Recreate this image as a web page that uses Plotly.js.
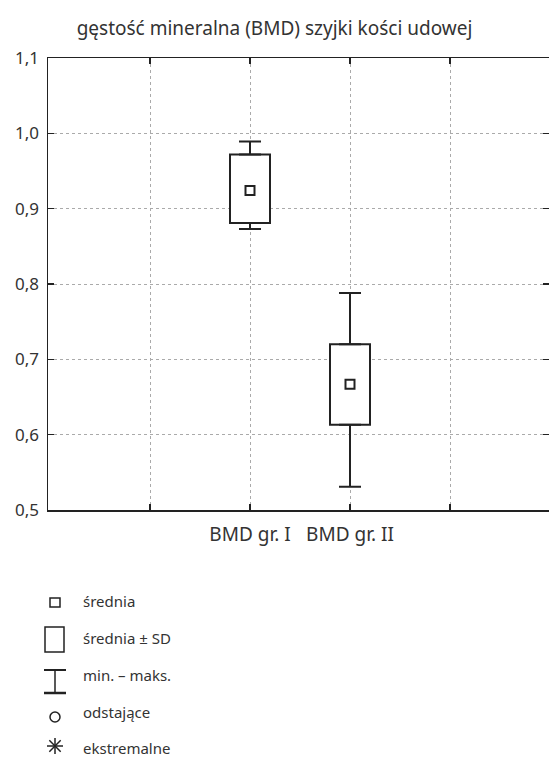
<!DOCTYPE html>
<html>
<head>
<meta charset="utf-8">
<script src="https://cdn.plot.ly/plotly-3.0.1.min.js"></script>
<style>html,body{margin:0;padding:0;background:#fff;}#chart{width:549px;height:758px;}</style>
</head>
<body>
<div id="chart"></div>
<script>
// Data
const categories = ['BMD gr. I', 'BMD gr. II'];
const catPos = [2, 3];
const means = [0.924, 0.667];
const sdLower = [0.881, 0.613];
const sdUpper = [0.972, 0.720];
const minVals = [0.873, 0.531];
const maxVals = [0.989, 0.788];
const tickVals = [1, 2, 3, 4];
const tickText = ['', 'BMD gr. I', 'BMD gr. II', ''];
const yTickVals = [0.5, 0.6, 0.7, 0.8, 0.9, 1.0, 1.1];
const legendLabels = ['średnia', 'średnia ± SD', 'min. – maks.', 'odstające', 'ekstremalne'];

const FONT = 'Noto Sans, sans-serif';
const INK = '#222';

const traces = [
  {
    type: 'bar', x: catPos, base: sdLower,
    y: sdUpper.map((u, i) => u - sdLower[i]),
    width: 0.4,
    marker: {color: '#fff', line: {color: INK, width: 2}},
    hoverinfo: 'skip', showlegend: false
  },
  { // upper whisker
    type: 'scatter', mode: 'markers', x: catPos, y: sdUpper,
    marker: {size: 1, color: 'rgba(0,0,0,0)'},
    error_y: {type: 'data', symmetric: false,
      array: maxVals.map((m, i) => m - sdUpper[i]), arrayminus: catPos.map(() => 0),
      color: INK, thickness: 2, width: 11},
    hoverinfo: 'skip', showlegend: false
  },
  { // lower whisker
    type: 'scatter', mode: 'markers', x: catPos, y: sdLower,
    marker: {size: 1, color: 'rgba(0,0,0,0)'},
    error_y: {type: 'data', symmetric: false,
      array: catPos.map(() => 0), arrayminus: sdLower.map((l, i) => l - minVals[i]),
      color: INK, thickness: 2, width: 11},
    hoverinfo: 'skip', showlegend: false
  },
  {
    type: 'scatter', mode: 'markers', x: catPos, y: means,
    marker: {symbol: 'square-open', size: 9, color: INK, line: {width: 2, color: INK}},
    hoverinfo: 'skip', showlegend: false
  },
  { // carrier for right-side ticks
    type: 'scatter', mode: 'markers', x: catPos, y: means, yaxis: 'y2',
    marker: {size: 1, color: 'rgba(0,0,0,0)'}, hoverinfo: 'skip', showlegend: false
  }
];

// Legend (drawn in pixel positions converted to paper coords)
const L = 48, T = 58, W = 501, H = 452;
const px = x => (x - L) / W;
const py = y => (T + H - y) / H;
const shapes = [];
const annotations = [];
const legendY = [601, 638, 675, 712, 748];
shapes.push({type: 'rect', xref: 'paper', yref: 'paper', x0: px(50), x1: px(60), y0: py(598), y1: py(607), line: {color: INK, width: 1.5}});
shapes.push({type: 'rect', xref: 'paper', yref: 'paper', x0: px(45), x1: px(64), y0: py(627), y1: py(652), line: {color: INK, width: 1.5}});
shapes.push({type: 'line', xref: 'paper', yref: 'paper', x0: px(44), x1: px(66), y0: py(670), y1: py(670), line: {color: INK, width: 2}});
shapes.push({type: 'line', xref: 'paper', yref: 'paper', x0: px(44), x1: px(66), y0: py(693), y1: py(693), line: {color: INK, width: 2.5}});
shapes.push({type: 'line', xref: 'paper', yref: 'paper', x0: px(55), x1: px(55), y0: py(670), y1: py(693), line: {color: INK, width: 1.5}});
shapes.push({type: 'circle', xref: 'paper', yref: 'paper', x0: px(50), x1: px(60), y0: py(712), y1: py(722), line: {color: INK, width: 1.5}});
const ac = [55, 746], ar = 8;
[[0, 1], [1, 0], [0.71, 0.71], [0.71, -0.71]].forEach(([dx, dy]) => {
  shapes.push({type: 'line', xref: 'paper', yref: 'paper',
    x0: px(ac[0] - dx * ar), x1: px(ac[0] + dx * ar), y0: py(ac[1] - dy * ar), y1: py(ac[1] + dy * ar),
    line: {color: INK, width: 1.5}});
});
legendLabels.forEach((t, i) => {
  annotations.push({xref: 'paper', yref: 'paper', x: px(81), y: py(legendY[i]),
    xanchor: 'left', yanchor: 'middle', text: t, showarrow: false,
    font: {family: FONT, size: 15, color: '#333'}});
});

const gridStyle = {showgrid: true, gridcolor: '#aaa', griddash: 'dot', gridwidth: 1};

const layout = {
  width: 549, height: 758,
  margin: {l: L, r: 0, t: T, b: 758 - T - H},
  paper_bgcolor: '#fff', plot_bgcolor: '#fff',
  separators: ', ',
  font: {family: FONT, color: '#333'},
  title: {text: 'gęstość mineralna (BMD) szyjki kości udowej', x: 0.5, xanchor: 'center',
    y: 1 - 28 / 758, yanchor: 'middle', font: {family: FONT, size: 19, color: '#333'}},
  showlegend: false,
  xaxis: Object.assign({
    range: [-0.02, 4.99], tickvals: tickVals, ticktext: tickText,
    ticks: 'inside', ticklen: 6, tickwidth: 1.5, tickcolor: INK,
    showline: true, linecolor: INK, linewidth: 1.5, mirror: 'ticks',
    zeroline: false, tickfont: {family: FONT, size: 19, color: '#333'},
    ticklabelstandoff: 7, fixedrange: true
  }, gridStyle),
  yaxis: Object.assign({
    range: [0.5, 1.1], tickvals: yTickVals, tickformat: '.1f',
    ticks: 'inside', ticklen: 6, tickwidth: 1.5, tickcolor: INK,
    showline: true, linecolor: INK, linewidth: 1.5, mirror: false,
    zeroline: false, tickfont: {family: FONT, size: 17, color: '#333'},
    ticklabelstandoff: 4, fixedrange: true
  }, gridStyle),
  yaxis2: {
    overlaying: 'y', side: 'right', matches: 'y', range: [0.5, 1.1], tickvals: yTickVals,
    ticks: 'inside', ticklen: 6, tickwidth: 1.5, tickcolor: INK,
    showticklabels: false, showline: false, showgrid: false, zeroline: false, fixedrange: true
  },
  shapes: shapes,
  annotations: annotations
};

Plotly.newPlot('chart', traces, layout, {displayModeBar: false, staticPlot: true});
</script>
</body>
</html>
